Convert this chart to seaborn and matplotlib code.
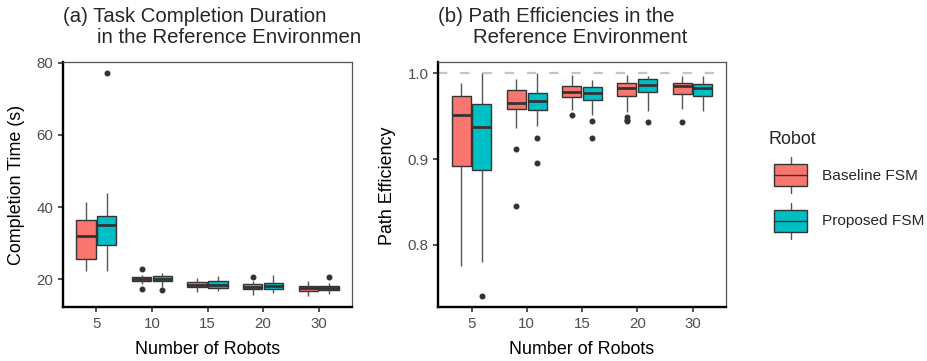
import numpy as np
import pandas as pd
import matplotlib
matplotlib.use("Agg")
import matplotlib.pyplot as plt
import seaborn as sns
from matplotlib.legend_handler import HandlerBase
from matplotlib.patches import Rectangle, Patch
from matplotlib.lines import Line2D
from matplotlib.transforms import Bbox, TransformedBbox

# ---------------- data ----------------
robots = ["5", "10", "15", "20", "30"]
groups = ["Baseline FSM", "Proposed FSM"]
colors = ["#F8766D", "#00BFC4"]

# five-number summaries per robot count: [whisker low, Q1, median, Q3, whisker high]
time_baseline = [[22.4, 25.5, 31.9, 36.3, 41.4],
                 [18.6, 19.4, 20.0, 20.6, 21.3],
                 [16.5, 17.9, 18.5, 19.2, 20.3],
                 [15.6, 17.3, 17.9, 18.6, 19.4],
                 [15.4, 16.8, 17.5, 18.2, 19.5]]
time_baseline_out = [[], [17.2, 22.8], [], [20.7], []]
time_proposed = [[22.4, 29.6, 35.0, 37.4, 44.0],
                 [17.8, 19.4, 20.0, 20.8, 21.6],
                 [16.8, 17.6, 18.3, 19.4, 20.9],
                 [16.3, 17.2, 18.1, 19.0, 21.2],
                 [15.9, 16.9, 17.7, 18.2, 19.0]]
time_proposed_out = [[77.0], [16.9], [], [], [20.5]]

eff_baseline = [[0.775, 0.892, 0.952, 0.974, 0.989],
                [0.936, 0.959, 0.966, 0.981, 0.9935],
                [0.9575, 0.973, 0.978, 0.985, 0.998],
                [0.955, 0.974, 0.9826, 0.989, 0.9985],
                [0.958, 0.976, 0.985, 0.989, 0.997]]
eff_baseline_out = [[], [0.912, 0.845], [0.951], [0.949, 0.946, 0.944], [0.943]]
eff_proposed = [[0.780, 0.887, 0.937, 0.964, 1.000],
                [0.939, 0.957, 0.968, 0.977, 1.000],
                [0.952, 0.9695, 0.977, 0.984, 0.992],
                [0.956, 0.978, 0.986, 0.994, 0.997],
                [0.956, 0.974, 0.9826, 0.988, 0.997]]
eff_proposed_out = [[0.740], [0.925, 0.895], [0.945, 0.925], [0.943], []]

y_ticks_time = [20, 40, 60, 80]
y_ticks_eff = [0.8, 0.9, 1.0]
y_ticklabels_eff = ["0.8", "0.9", "1.0"]
reference_eff = 1.0


def sample(stats, outliers, k=4):
    """Expand a five-number summary + outliers into observations whose
    box-plot statistics reproduce the summary exactly (n = 4k+1)."""
    lo, q1, med, q3, hi = stats
    low = sorted(v for v in outliers if v < q1)
    high = sorted(v for v in outliers if v > q3)
    lower = low + [lo] * (k - len(low))
    upper = [hi] * (k - len(high)) + high
    return lower + [q1] * k + [med] + [q3] * k + upper


def long_frame(per_group):
    rows = []
    for g, (stats_list, out_list) in zip(groups, per_group):
        for r, st, out in zip(robots, stats_list, out_list):
            for v in sample(st, out):
                rows.append((r, g, v))
    return pd.DataFrame(rows, columns=["robots", "Robot", "value"])


df_time = long_frame([(time_baseline, time_baseline_out), (time_proposed, time_proposed_out)])
df_eff = long_frame([(eff_baseline, eff_baseline_out), (eff_proposed, eff_proposed_out)])

# ---------------- style ----------------
sns.set_style("white")
plt.rcParams["font.family"] = ["Liberation Sans", "DejaVu Sans"]

W, H = 927, 361
fig = plt.figure(figsize=(W / 100, H / 100), dpi=100)


def px_axes(left, top, right, bottom):
    return fig.add_axes([left / W, 1 - bottom / H, (right - left) / W, (bottom - top) / H])


ax1 = px_axes(63, 62.3, 352, 307)
ax2 = px_axes(438.4, 62.3, 725.7, 307.3)

box_kws = dict(x="robots", y="value", hue="Robot", order=robots, hue_order=groups,
               palette=colors, saturation=1, width=0.75, gap=0.08,
               linecolor="#333333", linewidth=1.0, showcaps=False, fliersize=3.3,
               flierprops=dict(marker="o", markerfacecolor="#333333", markeredgecolor="#333333"),
               medianprops=dict(linewidth=2.0, color="#333333"),
               whiskerprops=dict(color="#555555", linewidth=1.0),
               legend=False)

ax2.axhline(reference_eff, color="#C4C4C4", lw=1.6, linestyle=(0, (4.2, 5.8)), zorder=0)

sns.boxplot(data=df_time, ax=ax1, **box_kws)
sns.boxplot(data=df_eff, ax=ax2, **box_kws)

ax1.set_ylim(12.32, 80.08)
ax1.set_yticks(y_ticks_time)
ax2.set_ylim(0.727, 1.013)
ax2.set_yticks(y_ticks_eff)
ax2.set_yticklabels(y_ticklabels_eff)

for ax in (ax1, ax2):
    ax.set_xlim(-0.6, 4.6)
    ax.set_facecolor("white")
    ax.grid(False)
    for s in ("left", "bottom"):
        ax.spines[s].set_color("black")
        ax.spines[s].set_linewidth(1.7)
    for s in ("top", "right"):
        ax.spines[s].set_color("#555555")
        ax.spines[s].set_linewidth(0.9)
    ax.tick_params(axis="both", which="major", length=3.6, width=1.1, color="#222222",
                   labelcolor="#4D4D4D", labelsize=10.8, pad=3.5,
                   bottom=True, left=True)
    ax.set_xlabel("Number of Robots", fontsize=12.9, color="black", va="center")
    ax.xaxis.set_label_coords(0.5, -0.1737)

ax1.set_ylabel("Completion Time (s)", fontsize=12.9, color="black", va="center")
ax1.yaxis.set_label_coords((16.7 - 63) / 289, 0.497)
ax2.set_ylabel("Path Efficiency", fontsize=12.9, color="black", va="center")
ax2.yaxis.set_label_coords((387.5 - 438.4) / 287.3, 0.497)

# ---------------- titles ----------------
tfs = 14.7
fig.text(63 / W, 1 - 21.7 / H, "(a) Task Completion Duration", fontsize=tfs, ha="left", va="baseline")
t2 = fig.text(96.7 / W, 1 - 43.3 / H, "in the Reference Environment", fontsize=tfs, ha="left", va="baseline")
t2.set_clip_box(TransformedBbox(Bbox.from_extents(0, 0, 360 / W, 1), fig.transFigure))
t2.set_clip_on(True)
fig.text(438.4 / W, 1 - 21.7 / H, "(b) Path Efficiencies in the", fontsize=tfs, ha="left", va="baseline")
fig.text(473 / W, 1 - 43.3 / H, "Reference Environment", fontsize=tfs, ha="left", va="baseline")


# ---------------- legend ----------------
class BoxKey(HandlerBase):
    def create_artists(self, legend, orig_handle, xdescent, ydescent, width, height, fontsize, trans):
        fc = orig_handle.get_facecolor()
        x0, y0 = -xdescent, -ydescent
        bx0, bw = x0 + width * 0.116, width * 0.767
        by0, bh = y0 + height * 0.19, height * 0.62
        cx = x0 + width / 2
        w1 = Line2D([cx, cx], [y0, by0], color="#555555", lw=1.0, transform=trans)
        w2 = Line2D([cx, cx], [by0 + bh, y0 + height], color="#555555", lw=1.0, transform=trans)
        rect = Rectangle((bx0, by0), bw, bh, facecolor=fc, edgecolor="#333333", lw=1.0, transform=trans)
        med = Line2D([bx0, bx0 + bw], [by0 + bh / 2] * 2, color="#333333", lw=1.0, transform=trans)
        return [w1, w2, rect, med]


handles = [Patch(facecolor=c, label=g) for c, g in zip(colors, groups)]
lfs = 11.1
leg = ax2.legend(handles=handles, labels=groups, title="Robot", loc="upper left",
                 bbox_to_anchor=(769 / W, 1 - 130.5 / H), bbox_transform=fig.transFigure,
                 frameon=False, fontsize=lfs, title_fontsize=12.9, alignment="left",
                 borderpad=0, borderaxespad=0, handlelength=43 / 15.4, handleheight=3.22,
                 labelspacing=0.62, handletextpad=0.65,
                 handler_map={Patch: BoxKey()})

fig.savefig("out.png", dpi=100)
